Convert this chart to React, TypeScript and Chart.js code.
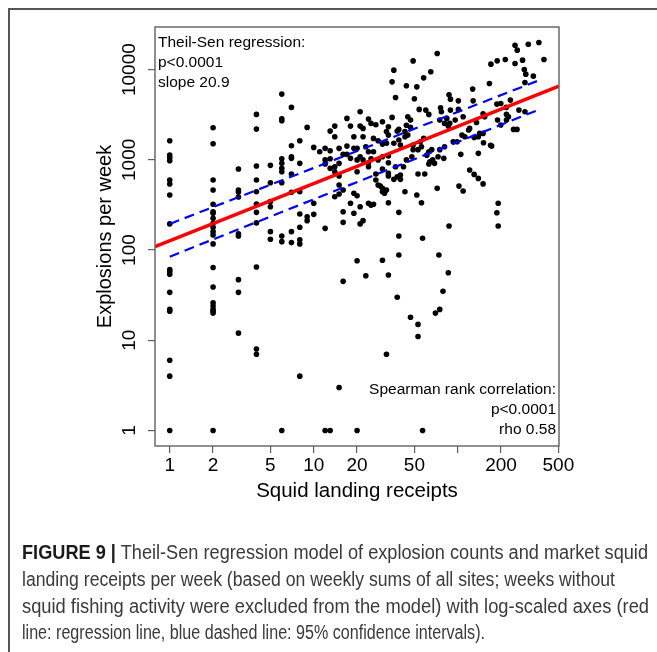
import React, { useEffect, useLayoutEffect, useRef } from "react";
import { Chart, registerables } from "chart.js";

Chart.register(...registerables);

// ---- data: weekly squid landing receipts (x) and explosions (y) ----
const receiptsA = [
  1, 1, 1, 1, 1, 1, 1, 1, 1, 1, 1, 1, 1, 1, 1, 1, 1,
  2, 2, 2, 2, 2, 2, 2, 2, 2, 2, 2, 2, 2, 2, 2, 2, 2, 2, 2, 2, 2,
  3, 3, 3, 3, 3, 3, 3, 3, 3,
  4, 4, 4, 4, 4, 4, 4, 4, 4, 4, 4,
  5, 5, 5, 5, 5, 5,
  6, 6, 6, 6, 6, 6, 6, 6, 6, 6, 6,
  7, 7, 7, 7, 7, 7, 7, 7,
  8, 8, 8, 8, 8, 8, 8, 8,
  9, 9, 9,
  10, 10, 10,
];
const explosionsA = [
  1627, 1130, 1055, 977, 598, 540, 408, 195, 61, 58, 54, 34, 22, 21, 6, 4, 1,
  2266, 1508, 598, 463, 322, 266, 256, 225, 198, 179, 160, 147, 117, 64, 39, 26, 24, 22, 21, 20, 1,
  791, 463, 440, 387, 151, 143, 47, 34, 12,
  3190, 2193, 854, 598, 443, 324, 262, 200, 65, 8, 7,
  869, 558, 344, 302, 160, 132,
  5355, 2851, 2710, 1030, 915, 805, 738, 558, 143, 124, 1,
  3814, 1432, 1082, 1039, 696, 437, 160, 121,
  1627, 915, 443, 251, 179, 130, 117, 4,
  2290, 234, 212,
  1375, 330, 249,
];

const receiptsB = [
  11,
  12, 12, 12, 12, 12,
  13, 13, 13, 13, 13,
  14, 14, 14, 14, 14,
  15, 15, 15, 15, 15, 15,
  16, 16, 16, 16, 16,
  17, 17, 17,
  18, 18, 18,
  19, 19, 19, 19,
  20, 20, 20, 20, 20, 20,
  21, 21, 21, 21, 21,
  22, 22, 22, 22,
  23, 23,
  24, 24, 24, 24, 24,
  25, 25, 25,
  26, 26, 26,
  27, 27, 27,
  28, 28, 28,
  29,
  30, 30, 30, 30, 30, 30, 30,
  31,
  32, 32, 32, 32,
  33, 33, 33, 33, 33, 33, 33, 33,
  35, 35,
  36, 36, 36,
  37, 37,
  38, 38, 38,
  39, 39, 39, 39, 39,
  40, 40, 40,
  42,
  43, 43, 43,
  44, 44, 44,
  45, 45,
  47, 47, 47,
  48,
  49, 49, 49,
  50,
  52, 52,
  53, 53, 53, 53,
  54,
];
const explosionsB = [
  1230,
  1341, 999, 898, 174, 1,
  2083, 1260, 1030, 805, 1,
  1803, 2368, 839, 738, 390,
  1341, 915, 662, 526, 418, 3,
  1151, 463, 266, 203, 45,
  2882, 1420, 1151,
  2368, 1039, 330,
  1803, 1341, 426, 256,
  1341, 999, 738, 400, 76, 1,
  3410, 2368, 1082, 302, 195,
  2233, 1803, 999, 212,
  1397, 52,
  2830, 1230, 929, 839, 330,
  2536, 1030, 314,
  1730, 1230, 322,
  2450, 696, 598,
  1627, 999, 526,
  512,
  2642, 1496, 1082, 791, 443, 483, 77,
  426,
  2065, 1530, 463, 7,
  2330, 1882, 929, 1102, 708, 662, 335, 53,
  2955, 7325,
  9870, 1530, 608,
  4920, 839,
  2083, 650, 30,
  2177, 262, 143, 88, 1661,
  678, 608, 1459,
  839,
  2065, 443, 1803,
  6620, 2420, 999,
  3000, 1882,
  2760, 2290, 18,
  1082,
  12500, 1459, 1298,
  4750,
  6450, 408,
  696, 15, 11, 1298,
  3625,
];

const receiptsC = [
  55, 56, 56, 57, 57, 58, 58, 59, 60, 61,
  63, 63, 63, 64, 65, 66, 67, 69, 70, 72,
  72, 73, 74, 75, 75, 75, 76, 77, 79, 80,
  81, 81, 84, 86, 86, 87, 87, 88, 89, 89,
  93, 96, 99, 101, 101, 102, 105, 107, 109, 109,
  112, 119, 121, 121, 127, 128, 130, 130, 135, 139,
  139, 139, 142, 150, 150, 150, 151, 154, 166, 169,
  170, 172, 187, 187, 188, 189, 191, 191, 199, 199,
  214, 217, 218, 218, 225, 232, 244, 250, 250, 258,
  259, 266, 282, 290, 293, 293, 297, 309, 335, 366,
  397,
];
const explosionsC = [
  1587, 1397, 335, 135, 1, 8110, 1730, 696, 3560, 1127,
  3190, 1230, 898, 954, 9460, 1298, 999, 915, 20, 15110,
  483, 1082, 88, 2760, 1298, 22, 3775, 3410, 35, 1039,
  2536, 1397, 2882, 2368, 56, 5260, 185, 2536, 4712, 3560,
  1587, 2760, 1587, 4510, 3625, 512, 1151, 1882, 3000, 452,
  1803, 2146, 2233, 772, 6085, 4510, 1775, 690, 2591, 1803,
  1181, 623, 1965, 3240, 1965, 541, 1546, 3000, 7035, 1448,
  11500, 1420, 4150, 259, 12510, 2760, 330, 185, 4220, 2430,
  12970, 3814, 3190, 2760, 3000, 4595, 2177, 18670, 11720, 2177,
  16440, 3560, 12740, 10050, 7215, 3410, 8913, 19150, 8475, 20000,
  12970,
];

// Theil-Sen regression line and 95% confidence bounds (end points)
const regressionX = [0.79, 505];
const regressionY = [109, 6560];
const confidenceX = [1, 370];
const confidenceUpperY = [195, 7650];
const confidenceLowerY = [84.5, 3625];

// axis ticks
const xTicks = [1, 2, 5, 10, 20, 50, 100, 200, 500];
const xTickLabels = ["1", "2", "5", "10", "20", "50", "", "200", "500"];
const yTicks = [1, 10, 100, 1000, 10000];
const yTickLabels = ["1", "10", "100", "1000", "10000"];
const xRange = [0.79, 505];
const yRange = [0.673, 29700];

const theilSenLines = ["Theil-Sen regression:", "p<0.0001", "slope 20.9"];
const spearmanLines = ["Spearman rank correlation:", "p<0.0001", "rho 0.58"];

const FONT = '"Liberation Sans", Arial, Helvetica, sans-serif';

const toPoints = (xs: number[], ys: number[]) => xs.map((x, i) => ({ x, y: ys[i] }));

const overlayPlugin = {
  id: "overlay",
  afterDraw(chart: any) {
    const ctx = chart.ctx as CanvasRenderingContext2D;
    const { left, right, top, bottom } = chart.chartArea;
    const ys = chart.scales.y;
    ctx.save();
    // plot box
    ctx.strokeStyle = "#606060";
    ctx.lineWidth = 1.4;
    ctx.strokeRect(left, top, right - left, bottom - top);
    // rotated y tick labels (R style)
    ctx.fillStyle = "#000";
    ctx.font = `19px ${FONT}`;
    ctx.textAlign = "center";
    ctx.textBaseline = "middle";
    yTicks.forEach((v, i) => {
      const py = ys.getPixelForValue(v);
      ctx.save();
      ctx.translate(130, py);
      ctx.rotate(-Math.PI / 2);
      ctx.fillText(yTickLabels[i], 0, 0);
      ctx.restore();
    });
    // annotations
    ctx.font = `15.5px ${FONT}`;
    ctx.textAlign = "left";
    theilSenLines.forEach((t, i) => ctx.fillText(t, left + 3, top + 16 + i * 20));
    ctx.textAlign = "right";
    spearmanLines.forEach((t, i) => ctx.fillText(t, right - 3, bottom - 56 + i * 19.7));
    ctx.restore();
  },
};

function ScatterChart() {
  const canvasRef = useRef<HTMLCanvasElement | null>(null);

  useEffect(() => {
    const canvas = canvasRef.current;
    if (!canvas) return;
    const points = [
      ...toPoints(receiptsA, explosionsA),
      ...toPoints(receiptsB, explosionsB),
      ...toPoints(receiptsC, explosionsC),
    ];
    const chart = new Chart(canvas, {
      type: "scatter",
      data: {
        datasets: [
          {
            label: "Regression line",
            data: toPoints(regressionX, regressionY),
            showLine: true,
            borderColor: "#ff0000",
            borderWidth: 3.5,
            pointRadius: 0,
            order: 1,
          },
          {
            label: "95% CI upper",
            data: toPoints(confidenceX, confidenceUpperY),
            showLine: true,
            borderColor: "#0000ff",
            borderWidth: 2.2,
            borderDash: [10, 6],
            pointRadius: 0,
            order: 2,
          },
          {
            label: "95% CI lower",
            data: toPoints(confidenceX, confidenceLowerY),
            showLine: true,
            borderColor: "#0000ff",
            borderWidth: 2.2,
            borderDash: [10, 6],
            pointRadius: 0,
            order: 2,
          },
          {
            label: "Weeks",
            data: points,
            pointRadius: 2.8,
            pointBackgroundColor: "#000",
            pointBorderWidth: 0,
            order: 10,
          },
        ],
      },
      options: {
        responsive: false,
        animation: false,
        devicePixelRatio: 1,
        layout: { padding: { left: 0, top: 27, right: 98, bottom: 0 } },
        plugins: { legend: { display: false }, tooltip: { enabled: false } },
        scales: {
          x: {
            type: "logarithmic",
            min: xRange[0],
            max: xRange[1],
            afterBuildTicks: (s: any) => {
              s.ticks = xTicks.map((v) => ({ value: v }));
            },
            afterFit: (s: any) => {
              s.height = 74;
            },
            border: { display: false },
            grid: { drawOnChartArea: false, drawTicks: true, tickLength: 7, color: "#606060", lineWidth: 1.2 },
            ticks: {
              autoSkip: false,
              maxRotation: 0,
              minRotation: 0,
              padding: 1,
              color: "#000",
              font: { family: FONT, size: 19 },
              callback: (_v: any, i: number) => xTickLabels[i],
            },
            title: {
              display: true,
              text: "Squid landing receipts",
              color: "#000",
              font: { family: FONT, size: 20.5 },
              padding: { top: 0, bottom: 16 },
            },
          },
          y: {
            type: "logarithmic",
            min: yRange[0],
            max: yRange[1],
            afterBuildTicks: (s: any) => {
              s.ticks = yTicks.map((v) => ({ value: v }));
            },
            afterFit: (s: any) => {
              s.width = 155;
            },
            border: { display: false },
            grid: { drawOnChartArea: false, drawTicks: true, tickLength: 7, color: "#606060", lineWidth: 1.2 },
            ticks: { display: false },
            title: {
              display: true,
              text: "Explosions per week",
              color: "#000",
              font: { family: FONT, size: 20 },
              padding: { top: 93, bottom: 0 },
            },
          },
        },
      },
      plugins: [overlayPlugin],
    });
    return () => chart.destroy();
  }, []);

  return (
    <canvas
      ref={canvasRef}
      width={657}
      height={520}
      style={{ position: "fixed", left: 0, top: 0, width: 657, height: 520, display: "block" }}
    />
  );
}

const captionRest = [
  "landing receipts per week (based on weekly sums of all sites; weeks without",
  "squid fishing activity were excluded from the model) with log-scaled axes (red",
  "line: regression line, blue dashed line: 95% confidence intervals).",
];
// measured widths of the four caption lines in the figure
const captionLineWidths = [626, 593, 627, 463];

function Caption() {
  const lineRefs = useRef<(HTMLSpanElement | null)[]>([]);

  useLayoutEffect(() => {
    lineRefs.current.forEach((el, i) => {
      if (!el) return;
      el.style.transform = "none";
      const w = el.getBoundingClientRect().width;
      if (w > 0) el.style.transform = `scaleX(${captionLineWidths[i] / w})`;
    });
  }, []);

  const lineStyle: React.CSSProperties = { display: "inline-block", transformOrigin: "0 50%" };

  return (
    <div
      style={{
        position: "fixed",
        left: 22,
        top: 539,
        fontFamily: FONT,
        fontSize: 19.5,
        lineHeight: "26.8px",
        color: "#3a3a3a",
        whiteSpace: "nowrap",
      }}
    >
      <div>
        <span ref={(el) => { lineRefs.current[0] = el; }} style={lineStyle}>
          <span style={{ fontWeight: 700, color: "#1a1a1a" }}>FIGURE 9 |</span> Theil-Sen regression model of
          explosion counts and market squid
        </span>
      </div>
      {captionRest.map((l, i) => (
        <div key={l}>
          <span ref={(el) => { lineRefs.current[i + 1] = el; }} style={lineStyle}>
            {l}
          </span>
        </div>
      ))}
    </div>
  );
}

export default function App() {
  return (
    <div>
      <div
        style={{
          position: "fixed",
          left: 8,
          top: 8,
          width: 649,
          height: 644,
          borderTop: "2px solid #555",
          borderLeft: "2px solid #555",
          boxSizing: "border-box",
        }}
      />
      <ScatterChart />
      <Caption />
    </div>
  );
}
